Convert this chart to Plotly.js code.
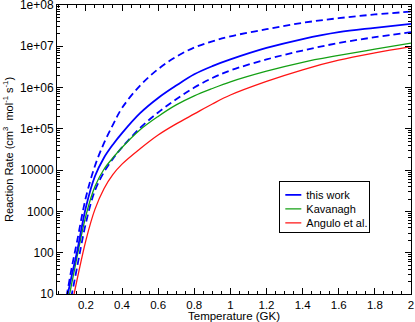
<!DOCTYPE html>
<html>
<head>
<meta charset="utf-8">
<script src="https://cdn.plot.ly/plotly-3.0.1.min.js"></script>
<style>
  html, body { margin: 0; padding: 0; background: #fff; }
  #chart { width: 415px; height: 322px; }
</style>
</head>
<body>
<div id="chart"></div>
<script>
// Temperature grid (GK)
const temps = [0.07, 0.08, 0.09, 0.1, 0.12, 0.15, 0.2, 0.25, 0.3, 0.35, 0.4, 0.5, 0.6, 0.7, 0.8, 0.9, 1.0, 1.2, 1.4, 1.6, 1.8, 2.0];

// Reaction rates (cm^3 mol^-1 s^-1)
const thisWork     = [2.1, 3.55, 6.0, 10, 26, 100, 1.26e3, 7.1e3, 2.0e4, 4.2e4, 7.9e4, 2.4e5, 5.6e5, 1.12e6, 2.1e6, 3.3e6, 4.8e6, 9.1e6, 1.5e7, 2.2e7, 2.8e7, 3.5e7];
const thisWorkHigh = [2.6, 4.5, 7.6, 13, 40, 178, 2.2e3, 1.26e4, 4.5e4, 1.26e5, 3.2e5, 1.12e6, 2.8e6, 5.6e6, 9.3e6, 1.32e7, 1.74e7, 2.6e7, 3.7e7, 4.8e7, 5.9e7, 6.9e7];
const thisWorkLow  = [0.76, 1.26, 2.1, 3.5, 8.9, 42, 525, 3.2e3, 8.9e3, 1.9e4, 3.55e4, 1.05e5, 2.5e5, 5.2e5, 1.0e6, 1.7e6, 2.6e6, 4.8e6, 7.9e6, 1.2e7, 1.66e7, 2.2e7];
const kavanagh     = [1.3, 2.2, 3.6, 6.0, 16.6, 76, 794, 4.0e3, 1.05e4, 2.0e4, 3.55e4, 9.5e4, 2.0e5, 3.8e5, 6.3e5, 9.5e5, 1.38e6, 2.5e6, 4.1e6, 6.0e6, 8.5e6, 1.2e7];
const angulo       = [0.4, 0.69, 1.15, 1.9, 5.0, 21, 200, 1.12e3, 3.55e3, 7.9e3, 1.4e4, 3.3e4, 7.1e4, 1.32e5, 2.3e5, 4.0e5, 6.6e5, 1.41e6, 2.7e6, 4.6e6, 6.9e6, 9.8e6];

// Axis ticks
const xTicks = [0.2, 0.4, 0.6, 0.8, 1, 1.2, 1.4, 1.6, 1.8, 2];
const xTickText = ['0.2', '0.4', '0.6', '0.8', '1', '1.2', '1.4', '1.6', '1.8', '2'];
const yTicks = [10, 100, 1000, 10000, 1e5, 1e6, 1e7, 1e8];
const yTickText = ['10', '100', '1000', '10000', '1e+05', '1e+06', '1e+07', '1e+08'];

const blue = '#0000ff';
const green = '#14a014';
const red = '#ff1414';
const fontFamily = 'Liberation Sans, Arial, sans-serif';

const data = [
    { x: temps, y: thisWorkHigh, type: 'scatter', mode: 'lines', showlegend: false,
      line: { color: blue, width: 1.8, dash: '7px,4px', shape: 'spline' } },
    { x: temps, y: thisWorkLow, type: 'scatter', mode: 'lines', showlegend: false,
      line: { color: blue, width: 1.8, dash: '7px,4px', shape: 'spline' } },
    { x: temps, y: angulo, type: 'scatter', mode: 'lines', name: 'Angulo et al.',
      line: { color: red, width: 1.3, shape: 'spline' } },
    { x: temps, y: kavanagh, type: 'scatter', mode: 'lines', name: 'Kavanagh',
      line: { color: green, width: 1.3, shape: 'spline' } },
    { x: temps, y: thisWork, type: 'scatter', mode: 'lines', name: 'this work',
      line: { color: blue, width: 1.8, shape: 'spline' } }
];

const axisCommon = {
    showline: true,
    linecolor: '#000',
    linewidth: 1,
    mirror: 'allticks',
    ticks: 'inside',
    ticklen: 6,
    tickwidth: 1,
    tickcolor: '#000',
    showgrid: false,
    zeroline: false,
    ticklabeloverflow: 'allow',
    tickfont: { family: fontFamily, size: 12, color: '#000' }
};

const layout = {
    width: 415,
    height: 322,
    margin: { l: 57, r: 4, t: 5, b: 28 },
    paper_bgcolor: '#fff',
    plot_bgcolor: '#fff',
    font: { family: fontFamily, size: 12, color: '#000' },
    xaxis: Object.assign({}, axisCommon, {
        range: [0.04, 2],
        tickmode: 'array',
        tickvals: xTicks,
        ticktext: xTickText,
        tickfont: { family: fontFamily, size: 11.5, color: '#000' },
        minor: { ticks: 'inside', ticklen: 3, dtick: 0.05, tick0: 0, tickcolor: '#000', showgrid: false },
        title: { text: 'Temperature (GK)', standoff: 0, font: { size: 11.5 } }
    }),
    yaxis: Object.assign({}, axisCommon, {
        type: 'log',
        range: [1, 8],
        tickmode: 'array',
        tickvals: yTicks,
        ticktext: yTickText,
        minor: { ticks: 'inside', ticklen: 3, dtick: 'D1', tickcolor: '#000', showgrid: false },
        title: { text: 'Reaction Rate (cm<sup>3</sup>  mol<sup>-1</sup> s<sup>-1</sup>)', standoff: 4, font: { size: 11 } }
    }),
    legend: {
        x: 0.628, y: 0.39, xanchor: 'left', yanchor: 'top',
        bordercolor: '#000', borderwidth: 1, bgcolor: '#fff',
        traceorder: 'reversed',
        itemwidth: 30,
        tracegroupgap: 0,
        font: { size: 11 }
    },
    showlegend: true
};

Plotly.newPlot('chart', data, layout, { displayModeBar: false, staticPlot: true }).then(function (gd) {
    // tighter legend like the original: short line samples, 14px rows
    const shift = 14;
    const trim = 18;
    const rowGap = 14;
    gd.querySelectorAll('.legend .legendlines path').forEach(function (p) {
        p.setAttribute('d', 'M5,0h16');
    });
    gd.querySelectorAll('.legend .legendtext').forEach(function (t) {
        t.setAttribute('x', +t.getAttribute('x') - shift);
    });
    const rows = Array.from(gd.querySelectorAll('.legend .traces'));
    const ys = rows.map(function (g) {
        const m = /translate\(([-\d.]+),\s*([-\d.]+)\)/.exec(g.getAttribute('transform') || '');
        return m ? [+m[1], +m[2]] : [0, 0];
    });
    let saved = 0;
    if (rows.length > 1) {
        const first = Math.min.apply(null, ys.map(function (p) { return p[1]; }));
        const order = ys.map(function (p, i) { return i; }).sort(function (a, b) { return ys[a][1] - ys[b][1]; });
        const oldLast = ys[order[order.length - 1]][1];
        order.forEach(function (idx, k) {
            rows[idx].setAttribute('transform', 'translate(' + ys[idx][0] + ',' + (first - 2 + k * rowGap) + ')');
        });
        saved = oldLast - (first - 2 + (rows.length - 1) * rowGap) + 5;
    }
    const bg = gd.querySelector('.legend rect.bg');
    if (bg) {
        bg.setAttribute('width', +bg.getAttribute('width') - trim);
        bg.setAttribute('height', +bg.getAttribute('height') - saved);
    }
});
</script>
</body>
</html>
